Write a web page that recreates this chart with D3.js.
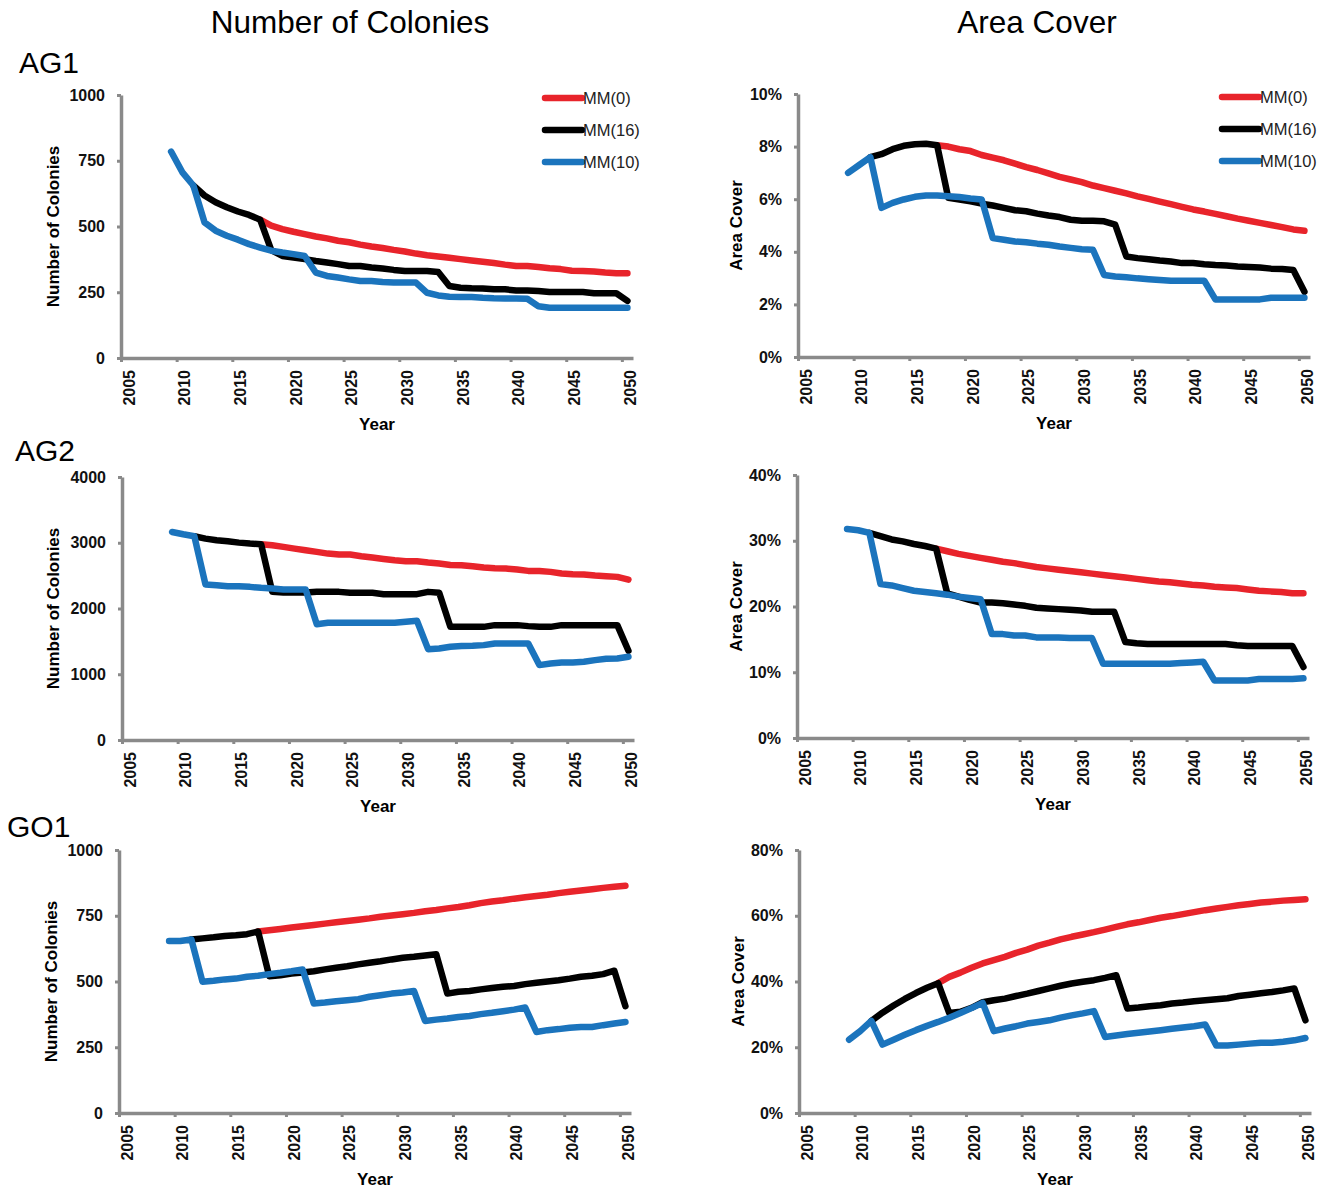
<!DOCTYPE html>
<html>
<head>
<meta charset="utf-8">
<script src="https://cdn.jsdelivr.net/npm/d3@7"></script>
<style>
  body { margin: 0; background: #fff; }
  svg { display: block; font-family: "Liberation Sans", Arial, sans-serif; }
</style>
</head>
<body>
<svg id="chart" width="1324" height="1188"></svg>
<script>
// years where each scenario starts
const START_MM10 = 2009;
const START_MM16 = 2011;
const START_MM0 = 2017;

const TICK_YEARS = [2005, 2010, 2015, 2020, 2025, 2030, 2035, 2040, 2045, 2050];
const SERIES_NAMES = ["MM(0)", "MM(16)", "MM(10)"];
const SERIES_COLORS = ["#e8242b", "#000000", "#1b74bd"];

// AG1 - number of colonies
const ag1ColMM0 = [526, 503, 490, 480, 471, 462, 455, 446, 440, 431, 424, 418, 411, 405, 397, 391, 386,
  381, 376, 371, 366, 361, 355, 350, 350, 346, 341, 338, 332, 331, 329, 325, 322, 322];
const ag1ColMM16 = [656, 618, 592, 573, 557, 544, 526, 410, 388, 382, 376, 369, 363, 357, 350, 350, 344,
  340, 335, 331, 331, 331, 327, 274, 267, 265, 264, 261, 261, 257, 257, 255, 251, 251, 251, 251, 246,
  246, 246, 217];
const ag1ColMM10 = [785, 707, 656, 516, 484, 465, 450, 433, 420, 408, 401, 395, 388, 325, 312, 306, 299,
  293, 293, 289, 287, 287, 287, 248, 238, 233, 232, 232, 229, 227, 226, 226, 225, 197, 191, 191, 191,
  191, 191, 191, 191, 191];

// AG1 - area cover (%)
const ag1AreaMM0 = [8.05, 8.0, 7.9, 7.83, 7.68, 7.58, 7.48, 7.35, 7.22, 7.11, 6.98, 6.85, 6.75, 6.65,
  6.52, 6.42, 6.32, 6.22, 6.11, 6.01, 5.91, 5.81, 5.71, 5.61, 5.53, 5.44, 5.35, 5.26, 5.18, 5.1, 5.02,
  4.94, 4.85, 4.8];
const ag1AreaMM16 = [7.6, 7.71, 7.9, 8.03, 8.09, 8.11, 8.05, 6.05, 5.99, 5.92, 5.83, 5.76, 5.67, 5.58,
  5.54, 5.45, 5.38, 5.32, 5.22, 5.18, 5.18, 5.16, 5.03, 3.82, 3.76, 3.72, 3.67, 3.63, 3.57, 3.57, 3.53,
  3.5, 3.48, 3.44, 3.42, 3.4, 3.36, 3.35, 3.31, 2.48];
const ag1AreaMM10 = [7.0, 7.3, 7.6, 5.67, 5.86, 5.99, 6.09, 6.14, 6.14, 6.11, 6.08, 6.03, 5.99, 4.52,
  4.46, 4.39, 4.36, 4.31, 4.27, 4.2, 4.15, 4.1, 4.08, 3.12, 3.06, 3.03, 2.99, 2.96, 2.93, 2.9, 2.9, 2.9,
  2.9, 2.19, 2.19, 2.19, 2.19, 2.19, 2.25, 2.25, 2.25, 2.25];

// AG2 - number of colonies
const ag2ColMM0 = [2977, 2962, 2937, 2911, 2886, 2861, 2835, 2820, 2820, 2795, 2775, 2754, 2734, 2719,
  2719, 2699, 2683, 2663, 2658, 2643, 2623, 2612, 2607, 2592, 2572, 2572, 2557, 2532, 2521, 2516, 2501,
  2491, 2481, 2440];
const ag2ColMM16 = [3098, 3063, 3038, 3023, 3002, 2987, 2977, 2253, 2243, 2243, 2243, 2253, 2253, 2253,
  2238, 2238, 2238, 2218, 2218, 2218, 2218, 2253, 2238, 1721, 1721, 1721, 1721, 1747, 1747, 1747, 1732,
  1721, 1721, 1747, 1747, 1747, 1747, 1747, 1747, 1357];
const ag2ColMM10 = [3164, 3129, 3098, 2364, 2354, 2339, 2339, 2329, 2314, 2304, 2288, 2288, 2288, 1762,
  1782, 1782, 1782, 1782, 1782, 1782, 1782, 1797, 1813, 1382, 1392, 1418, 1428, 1433, 1443, 1468, 1468,
  1468, 1468, 1139, 1164, 1180, 1180, 1190, 1215, 1235, 1240, 1266];

// AG2 - area cover (%)
const ag2AreaMM0 = [28.8, 28.4, 28.0, 27.7, 27.4, 27.1, 26.8, 26.6, 26.3, 26.0, 25.8, 25.6, 25.4, 25.2,
  25.0, 24.8, 24.6, 24.4, 24.2, 24.0, 23.8, 23.7, 23.5, 23.3, 23.2, 23.0, 22.9, 22.8, 22.6, 22.4, 22.3,
  22.2, 22.0, 22.0];
const ag2AreaMM16 = [31.2, 30.7, 30.2, 29.9, 29.5, 29.2, 28.8, 22.0, 21.5, 21.0, 20.6, 20.6, 20.5, 20.3,
  20.1, 19.8, 19.7, 19.6, 19.5, 19.4, 19.2, 19.2, 19.2, 14.6, 14.4, 14.3, 14.3, 14.3, 14.3, 14.3, 14.3,
  14.3, 14.3, 14.1, 14.0, 14.0, 14.0, 14.0, 14.0, 10.8];
const ag2AreaMM10 = [31.8, 31.6, 31.2, 23.4, 23.2, 22.8, 22.4, 22.2, 22.0, 21.8, 21.5, 21.3, 21.1, 15.8,
  15.8, 15.6, 15.6, 15.3, 15.3, 15.3, 15.2, 15.2, 15.2, 11.3, 11.3, 11.3, 11.3, 11.3, 11.3, 11.3, 11.4,
  11.5, 11.6, 8.76, 8.76, 8.76, 8.76, 8.96, 8.96, 8.96, 8.96, 9.1];

// GO1 - number of colonies
const go1ColMM0 = [690, 695, 700, 705, 710, 715, 720, 725, 730, 735, 740, 746, 751, 756, 761, 767, 772,
  778, 783, 790, 798, 804, 809, 815, 820, 825, 830, 836, 841, 846, 851, 856, 860, 864];
const go1ColMM16 = [660, 664, 668, 673, 676, 680, 690, 520, 524, 530, 534, 539, 546, 552, 558, 565, 571,
  577, 584, 590, 594, 599, 604, 454, 461, 464, 470, 475, 480, 483, 490, 495, 500, 505, 511, 518, 522,
  528, 541, 406];
const go1ColMM10 = [654, 654, 660, 499, 503, 508, 511, 518, 522, 528, 533, 539, 546, 416, 420, 425, 429,
  433, 442, 448, 454, 458, 464, 350, 355, 359, 365, 369, 376, 381, 387, 393, 401, 308, 315, 319, 324,
  327, 327, 334, 340, 346];

// GO1 - area cover (%)
const go1AreaMM0 = [39.5, 41.4, 42.7, 44.2, 45.5, 46.5, 47.5, 48.7, 49.7, 50.9, 51.8, 52.8, 53.6, 54.3,
  55.0, 55.8, 56.6, 57.4, 58.0, 58.7, 59.4, 59.9, 60.5, 61.1, 61.7, 62.2, 62.7, 63.2, 63.6, 64.0, 64.3,
  64.6, 64.8, 65.0];
const go1AreaMM16 = [28.0, 30.5, 32.7, 34.7, 36.5, 38.1, 39.5, 30.4, 30.8, 32.0, 33.7, 34.3, 34.8, 35.6,
  36.3, 37.1, 37.9, 38.7, 39.4, 39.9, 40.4, 41.1, 41.9, 31.8, 32.1, 32.5, 32.8, 33.3, 33.6, 34.0, 34.3,
  34.6, 34.9, 35.6, 36.0, 36.4, 36.8, 37.3, 37.9, 28.2];
const go1AreaMM10 = [22.3, 24.9, 28.0, 20.8, 22.3, 23.8, 25.2, 26.5, 27.7, 29.0, 30.4, 31.9, 33.5, 24.9,
  25.7, 26.4, 27.2, 27.7, 28.2, 29.0, 29.7, 30.3, 31.0, 23.1, 23.6, 24.0, 24.4, 24.8, 25.2, 25.6, 26.0,
  26.4, 26.9, 20.5, 20.5, 20.8, 21.1, 21.4, 21.4, 21.7, 22.1, 22.8];

const COL_TICKS_1000 = [0, 250, 500, 750, 1000];
const COL_TICKS_4000 = [0, 1000, 2000, 3000, 4000];
const AREA_TICKS_10 = [0, 2, 4, 6, 8, 10];
const AREA_TICKS_40 = [0, 10, 20, 30, 40];
const AREA_TICKS_80 = [0, 20, 40, 60, 80];

// panel layout
const PANELS = [
  {left: 121, right: 633, top: 95, bottom: 358, yMax: 1000, ticks: COL_TICKS_1000, pct: false,
   yTitle: "Number of Colonies", yTitleX: 53, legend: true,
   series: [ag1ColMM0, ag1ColMM16, ag1ColMM10]},
  {left: 798, right: 1310, top: 94, bottom: 357, yMax: 10, ticks: AREA_TICKS_10, pct: true,
   yTitle: "Area Cover", yTitleX: 736, legend: true,
   series: [ag1AreaMM0, ag1AreaMM16, ag1AreaMM10]},
  {left: 122, right: 634, top: 477, bottom: 740, yMax: 4000, ticks: COL_TICKS_4000, pct: false,
   yTitle: "Number of Colonies", yTitleX: 53, legend: false,
   series: [ag2ColMM0, ag2ColMM16, ag2ColMM10]},
  {left: 797, right: 1309, top: 475, bottom: 738, yMax: 40, ticks: AREA_TICKS_40, pct: true,
   yTitle: "Area Cover", yTitleX: 736, legend: false,
   series: [ag2AreaMM0, ag2AreaMM16, ag2AreaMM10]},
  {left: 119, right: 631, top: 850, bottom: 1113, yMax: 1000, ticks: COL_TICKS_1000, pct: false,
   yTitle: "Number of Colonies", yTitleX: 51, legend: false,
   series: [go1ColMM0, go1ColMM16, go1ColMM10]},
  {left: 799, right: 1311, top: 850, bottom: 1113, yMax: 80, ticks: AREA_TICKS_80, pct: true,
   yTitle: "Area Cover", yTitleX: 738, legend: false,
   series: [go1AreaMM0, go1AreaMM16, go1AreaMM10]}
];
const STARTS = [START_MM0, START_MM16, START_MM10];
const AXIS_COLOR = "#8a8a8a";

const svg = d3.select("#chart");

// column headers and site labels
svg.append("text").attr("x", 350).attr("y", 33).attr("text-anchor", "middle")
  .attr("font-size", 31.5).text("Number of Colonies");
svg.append("text").attr("x", 1037).attr("y", 33).attr("text-anchor", "middle")
  .attr("font-size", 31.5).text("Area Cover");
[["AG1", 19, 73], ["AG2", 15, 461], ["GO1", 7, 837]].forEach(([t, x, y]) => {
  svg.append("text").attr("x", x).attr("y", y).attr("font-size", 30).text(t);
});

PANELS.forEach((p) => {
  const g = svg.append("g");

  const X = d3.scaleLinear().domain([2004.5, 2050.5]).range([p.left, p.right]);
  const Y = d3.scaleLinear().domain([0, p.yMax]).range([p.bottom, p.top]);

  // y axis
  const yAxis = g.append("g")
    .attr("transform", `translate(${p.left},0)`)
    .call(d3.axisLeft(Y).tickValues(p.ticks).tickSizeInner(4).tickSizeOuter(0).tickPadding(12)
      .tickFormat((d) => p.pct ? d + "%" : d));

  // x axis tick marks sit between categories
  const xTicks = g.append("g")
    .attr("transform", `translate(0,${p.bottom})`)
    .call(d3.axisBottom(X).tickValues(TICK_YEARS.map((d) => d - 0.5)).tickSizeInner(4)
      .tickSizeOuter(0).tickFormat(""));

  // x labels, rotated
  const xLabels = g.append("g")
    .attr("transform", `translate(0,${p.bottom})`)
    .call(d3.axisBottom(X).tickValues(TICK_YEARS).tickSize(0).tickFormat(d3.format("d")));
  xLabels.select(".domain").remove();
  xLabels.selectAll("text")
    .attr("transform", (d) => `translate(2,12) rotate(-90)`)
    .attr("x", 0).attr("y", 0).attr("dy", "0.35em")
    .attr("text-anchor", "end");

  [yAxis, xTicks].forEach((a) => {
    a.select(".domain").attr("stroke", AXIS_COLOR).attr("stroke-width", 3.5);
    a.selectAll(".tick line").attr("stroke", AXIS_COLOR).attr("stroke-width", 3);
  });
  g.selectAll("text").attr("font-size", 16).attr("font-weight", "bold")
    .attr("fill", "#111").attr("font-family", "Liberation Sans, Arial, sans-serif");

  // axis titles
  g.append("text")
    .attr("transform", `translate(${p.yTitleX},${(p.top + p.bottom) / 2}) rotate(-90)`)
    .attr("text-anchor", "middle").attr("dy", "0.35em")
    .attr("font-size", 17).attr("font-weight", "bold").text(p.yTitle);
  g.append("text")
    .attr("x", (p.left + p.right) / 2).attr("y", p.bottom + 66)
    .attr("text-anchor", "middle").attr("dy", "0.35em")
    .attr("font-size", 17).attr("font-weight", "bold").text("Year");

  // lines
  const line = d3.line().x((d) => X(d.year)).y((d) => Y(d.value));
  p.series.forEach((vals, i) => {
    const pts = vals.map((v, j) => ({year: STARTS[i] + j, value: v}));
    g.append("path")
      .datum(pts)
      .attr("d", line)
      .attr("fill", "none")
      .attr("stroke", SERIES_COLORS[i])
      .attr("stroke-width", 6.5)
      .attr("stroke-linejoin", "round")
      .attr("stroke-linecap", "round");
  });

  // legend
  if (p.legend) {
    SERIES_NAMES.forEach((name, i) => {
      const ly = p.top + 3 + i * 32;
      const lx = p.right - 88;
      g.append("line")
        .attr("x1", lx).attr("x2", lx + 37).attr("y1", ly).attr("y2", ly)
        .attr("stroke", SERIES_COLORS[i]).attr("stroke-width", 6.5)
        .attr("stroke-linecap", "round");
      g.append("text")
        .attr("x", lx + 38).attr("y", ly).attr("dy", "0.35em")
        .attr("font-size", 16.5).attr("fill", "#222").text(name);
    });
  }
});
</script>
</body>
</html>
